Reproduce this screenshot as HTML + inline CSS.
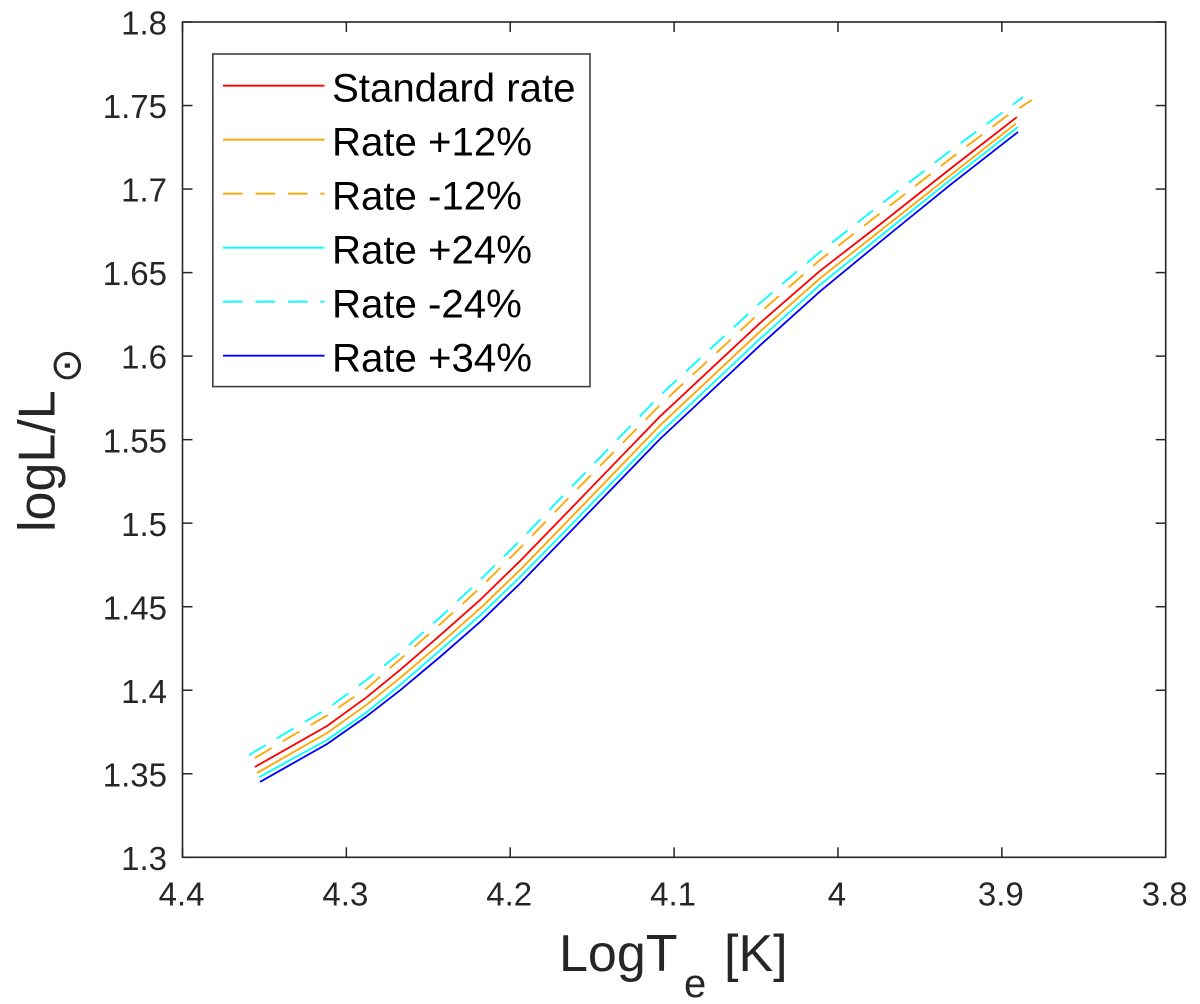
<!DOCTYPE html>
<html lang="en">
<head>
<meta charset="utf-8">
<title>logL/L vs LogTe</title>
<style>
html,body{margin:0;padding:0;background:#fff;}
svg{display:block;}
text{font-family:"Liberation Sans",Arial,sans-serif;fill:#262626;}
</style>
</head>
<body>
<svg id="chart" xmlns="http://www.w3.org/2000/svg" width="1200" height="1004" viewBox="0 0 1200 1004">
  <rect x="0" y="0" width="1200" height="1004" fill="#ffffff"/>
  <g id="series-layer"></g>
  <g id="axis-layer"></g>
  <g>
    <text x="559" y="971" font-size="52">LogT</text>
    <text x="684" y="997" font-size="40">e</text>
    <text x="724" y="971" font-size="52">[K]</text>
  </g>
  <g>
    <text transform="translate(54.5,532) rotate(-90)" font-size="52">logL/L</text>
    <text transform="translate(80.7,383.3) rotate(-90)" font-size="42" style="font-family:'DejaVu Sans',sans-serif">⊙</text>
  </g>
  <g id="legend-layer"></g>
</svg>
<script>
var xTickValues = [4.4, 4.3, 4.2, 4.1, 4, 3.9, 3.8];
var xTickLabels = ['4.4', '4.3', '4.2', '4.1', '4', '3.9', '3.8'];
var yTickValues = [1.3, 1.35, 1.4, 1.45, 1.5, 1.55, 1.6, 1.65, 1.7, 1.75, 1.8];
var yTickLabels = ['1.3', '1.35', '1.4', '1.45', '1.5', '1.55', '1.6', '1.65', '1.7', '1.75', '1.8'];

var seriesNames = ['Standard rate', 'Rate +12%', 'Rate -12%', 'Rate +24%', 'Rate -24%', 'Rate +34%'];

var standardT = [4.3558, 4.3344, 4.3118, 4.2874, 4.2673, 4.2429, 4.2178, 4.1940, 4.1635, 4.1086, 4.0476, 4.0110, 3.9744, 3.9316, 3.8908];
var standardL = [1.3541, 1.3660, 1.3786, 1.3960, 1.4121, 1.4328, 1.4546, 1.4774, 1.5082, 1.5639, 1.6198, 1.6510, 1.6788, 1.7120, 1.7431];

var plus12T = [4.3545, 4.3344, 4.3118, 4.2874, 4.2673, 4.2429, 4.2178, 4.1940, 4.1635, 4.1086, 4.0476, 4.0110, 3.9744, 3.9316, 3.8914];
var plus12L = [1.3505, 1.3618, 1.3744, 1.3915, 1.4073, 1.4277, 1.4495, 1.4720, 1.5028, 1.5585, 1.6147, 1.6465, 1.6749, 1.7081, 1.7392];

var minus12T = [4.3558, 4.3344, 4.3118, 4.2874, 4.2673, 4.2429, 4.2178, 4.1940, 4.1635, 4.1086, 4.0476, 4.0110, 3.9744, 3.9316, 3.8963, 3.8816];
var minus12L = [1.3594, 1.3720, 1.3849, 1.4013, 1.4184, 1.4394, 1.4618, 1.4851, 1.5160, 1.5707, 1.6261, 1.6575, 1.6854, 1.7180, 1.7443, 1.7533];

var plus24T = [4.3533, 4.3344, 4.3118, 4.2874, 4.2673, 4.2429, 4.2178, 4.1940, 4.1635, 4.1086, 4.0476, 4.0110, 3.9744, 3.9316, 3.8901];
var plus24L = [1.3478, 1.3582, 1.3702, 1.3870, 1.4031, 1.4238, 1.4453, 1.4678, 1.4983, 1.5540, 1.6103, 1.6426, 1.6716, 1.7054, 1.7372];

var minus24T = [4.3594, 4.3344, 4.3118, 4.2874, 4.2673, 4.2429, 4.2178, 4.1940, 4.1635, 4.1086, 4.0476, 4.0110, 3.9744, 3.9316, 3.8993, 3.8871];
var minus24L = [1.3612, 1.3759, 1.3888, 1.4064, 1.4223, 1.4435, 1.4666, 1.4896, 1.5208, 1.5764, 1.6318, 1.6623, 1.6905, 1.7228, 1.7461, 1.7551];

var plus34T = [4.3527, 4.3344, 4.3118, 4.2874, 4.2673, 4.2429, 4.2178, 4.1940, 4.1635, 4.1086, 4.0476, 4.0110, 3.9744, 3.9316, 3.8901];
var plus34L = [1.3451, 1.3553, 1.3678, 1.3846, 1.3999, 1.4199, 1.4414, 1.4639, 1.4947, 1.5504, 1.6064, 1.6387, 1.6683, 1.7024, 1.7342];

var NS = 'http://www.w3.org/2000/svg';
var AXIS = { left: 182.5, right: 1165.7, top: 22, bottom: 857.3, xMax: 4.4, xMin: 3.8, yMin: 1.3, yMax: 1.8 };

function xScale(v) {
  return AXIS.left + (AXIS.xMax - v) / (AXIS.xMax - AXIS.xMin) * (AXIS.right - AXIS.left);
}
function yScale(v) {
  return AXIS.bottom - (v - AXIS.yMin) / (AXIS.yMax - AXIS.yMin) * (AXIS.bottom - AXIS.top);
}
function make(tag, attrs) {
  var el = document.createElementNS(NS, tag);
  for (var k in attrs) { el.setAttribute(k, attrs[k]); }
  return el;
}

var AXIS_COLOR = '#262626';
var seriesLayer = document.getElementById('series-layer');
var axisLayer = document.getElementById('axis-layer');
var legendLayer = document.getElementById('legend-layer');

var seriesDraw = [
  { t: standardT, l: standardL, color: '#ff0000', dash: '' },
  { t: plus12T, l: plus12L, color: '#ffa500', dash: '' },
  { t: minus12T, l: minus12L, color: '#ffa500', dash: '19.6 12.86' },
  { t: plus24T, l: plus24L, color: '#00ffff', dash: '' },
  { t: minus24T, l: minus24L, color: '#00ffff', dash: '19.6 12.86' },
  { t: plus34T, l: plus34L, color: '#0000ff', dash: '' }
];

seriesDraw.forEach(function (s, i) {
  var pts = s.t.map(function (t, j) {
    return xScale(t).toFixed(2) + ',' + yScale(s.l[j]).toFixed(2);
  }).join(' ');
  var line = make('polyline', { points: pts, fill: 'none', stroke: s.color, 'stroke-width': 1.8, 'stroke-linejoin': 'round' });
  if (s.dash) { line.setAttribute('stroke-dasharray', s.dash); }
  
  
  line.setAttribute('aria-label', seriesNames[i]);
  seriesLayer.appendChild(line);
});

var box = make('rect', { x: AXIS.left, y: AXIS.top, width: AXIS.right - AXIS.left, height: AXIS.bottom - AXIS.top, fill: 'none', stroke: AXIS_COLOR, 'stroke-width': 1.6 });


axisLayer.appendChild(box);

xTickValues.forEach(function (v, i) {
  var x = xScale(v);
  var b = make('line', { x1: x, x2: x, y1: AXIS.bottom, y2: AXIS.bottom - 10, stroke: AXIS_COLOR, 'stroke-width': 1.5 });
  
  
  axisLayer.appendChild(b);
  var t = make('line', { x1: x, x2: x, y1: AXIS.top, y2: AXIS.top + 10, stroke: AXIS_COLOR, 'stroke-width': 1.5 });
  
  
  axisLayer.appendChild(t);
  var label = make('text', { x: x - 1, y: 905.5, 'font-size': 33, 'text-anchor': 'middle' });
  label.textContent = xTickLabels[i];
  
  
  axisLayer.appendChild(label);
});

yTickValues.forEach(function (v, i) {
  var y = yScale(v);
  var l = make('line', { x1: AXIS.left, x2: AXIS.left + 10, y1: y, y2: y, stroke: AXIS_COLOR, 'stroke-width': 1.5 });
  
  
  axisLayer.appendChild(l);
  var r = make('line', { x1: AXIS.right, x2: AXIS.right - 10, y1: y, y2: y, stroke: AXIS_COLOR, 'stroke-width': 1.5 });
  
  
  axisLayer.appendChild(r);
  var label = make('text', { x: 167, y: y + 12.6, 'font-size': 33, 'text-anchor': 'end' });
  label.textContent = yTickLabels[i];
  
  
  axisLayer.appendChild(label);
});

var legendBox = make('rect', { x: 212.8, y: 54, width: 377.2, height: 332.6, fill: '#ffffff', stroke: '#404040', 'stroke-width': 1.6 });


legendLayer.appendChild(legendBox);

seriesDraw.forEach(function (s, i) {
  var y = 85.7 + i * 54;
  var line = make('line', { x1: 223, x2: 324.5, y1: y, y2: y, stroke: s.color, 'stroke-width': 1.8 });
  if (s.dash) { line.setAttribute('stroke-dasharray', s.dash); }
  
  
  legendLayer.appendChild(line);
  var label = make('text', { x: 332, y: y + 16, 'font-size': 40.2 });
  label.style.fill = '#000000';
  label.textContent = seriesNames[i];
  
  
  legendLayer.appendChild(label);
});
</script>
</body>
</html>
